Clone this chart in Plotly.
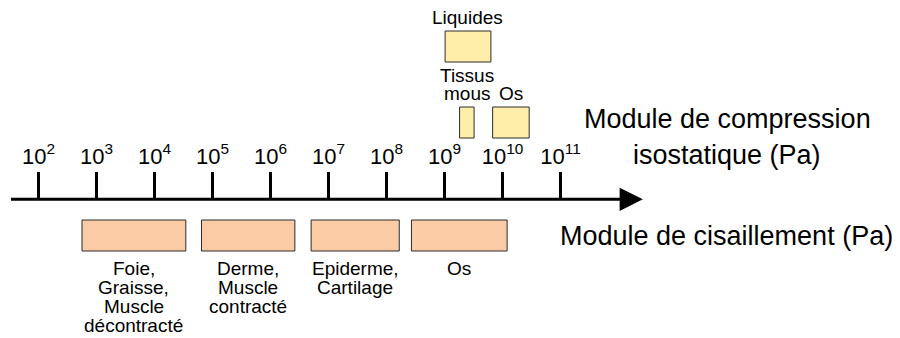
import plotly.graph_objects as go

# Échelle : exposants de 10 (Pa)
decades = [2, 3, 4, 5, 6, 7, 8, 9, 10, 11]
tick_text = [f"10<sup>{d}</sup>" for d in decades]

# Module de cisaillement : bornes en log10(Pa)
shear_labels = ["Foie,\nGraisse,\nMuscle\ndécontracté", "Derme,\nMuscle\ncontracté",
                "Epiderme,\nCartilage", "Os"]
shear_low = [2.75, 4.81, 6.70, 8.43]
shear_high = [4.54, 6.42, 8.22, 10.08]

# Module de compression isostatique : bornes en log10(Pa)
bulk_labels = ["Liquides", "Tissus\nmous", "Os"]
bulk_low = [9.01, 9.26, 9.83]
bulk_high = [9.80, 9.51, 10.46]
bulk_row = [0, 1, 1]

FONT = "Liberation Sans, Arial, sans-serif"
OFF = 8              # marge du <body> de la page
W, H = 900 - OFF, 338 - OFF
PX = 58.0            # pixels par décade
X0 = 2 - 38.5 / PX   # exposant au bord gauche de l'image
AXIS_Y = 199.3

SHEAR_FILL = "#FBCBA6"
BULK_FILL = "#FEEEAA"
EDGE = "#2b2b2b"

fig = go.Figure()
fig.add_trace(go.Scatter(x=[], y=[], showlegend=False))

shapes = []
annotations = []

# Boîtes du cisaillement + légendes sous chaque boîte
for lab, lo, hi in zip(shear_labels, shear_low, shear_high):
    shapes.append(dict(type="rect", xref="x", yref="y", x0=lo, x1=hi, y0=220, y1=251,
                       fillcolor=SHEAR_FILL, line=dict(color=EDGE, width=1)))
    for i, line in enumerate(lab.split("\n")):
        annotations.append(dict(x=(lo + hi) / 2, y=268 + i * 19.3, xref="x", yref="y",
                                text=line, showarrow=False, xanchor="center", yanchor="middle",
                                font=dict(family=FONT, size=19, color="black")))

# Boîtes de compression + légendes au-dessus
row_top = [31, 107]
for lab, lo, hi, r in zip(bulk_labels, bulk_low, bulk_high, bulk_row):
    top = row_top[r]
    shapes.append(dict(type="rect", xref="x", yref="y", x0=lo, x1=hi, y0=top, y1=top + 31,
                       fillcolor=BULK_FILL, line=dict(color=EDGE, width=1)))
    lines = lab.split("\n")
    n = len(lines)
    for i, line in enumerate(lines):
        annotations.append(dict(x=(lo + hi) / 2, y=top - 13.5 - (n - 1 - i) * 18.5,
                                xref="x", yref="y", text=line, showarrow=False,
                                xanchor="center", yanchor="middle",
                                font=dict(family=FONT, size=19, color="black")))

# Axe avec flèche
annotations.append(dict(x=12.42, y=AXIS_Y, ax=1.5, ay=AXIS_Y, xref="x", yref="y",
                        axref="x", ayref="y", text="", showarrow=True,
                        arrowhead=2, arrowsize=1.55, arrowwidth=3, arrowcolor="black"))

# Titres à droite
big = dict(family=FONT, size=27, color="black")
annotations += [
    dict(x=(727 - OFF) / W, y=119, xref="paper", yref="y", text="Module de compression",
         showarrow=False, xanchor="center", yanchor="middle", font=big),
    dict(x=(727 - OFF) / W, y=155, xref="paper", yref="y", text="isostatique (Pa)",
         showarrow=False, xanchor="center", yanchor="middle", font=big),
    dict(x=(726 - OFF) / W, y=236, xref="paper", yref="y", text="Module de cisaillement (Pa)",
         showarrow=False, xanchor="center", yanchor="middle", font=big),
]

fig.update_layout(
    width=W, height=H,
    margin=dict(l=0, r=0, t=0, b=0),
    paper_bgcolor="white", plot_bgcolor="white",
    showlegend=False,
    xaxis=dict(range=[X0 + OFF / PX, X0 + 900 / PX], tickvals=decades, ticktext=tick_text,
               side="top", anchor="free", position=(338 - AXIS_Y) / H,
               ticks="outside", ticklen=27, tickwidth=3, tickcolor="black",
               showline=False, showgrid=False, zeroline=False, fixedrange=True,
               tickfont=dict(family=FONT, size=22, color="black")),
    yaxis=dict(range=[338, OFF], visible=False, showgrid=False, zeroline=False, fixedrange=True),
    shapes=shapes,
    annotations=annotations,
)

fig.write_html("out.html")
